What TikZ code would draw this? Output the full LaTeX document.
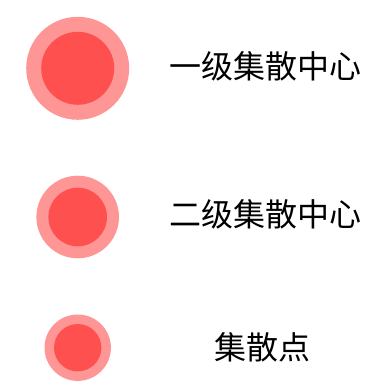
\documentclass[tikz,border=0pt]{standalone}
\usepackage{fontspec}
\newfontfamily\cjk{Noto Sans CJK SC}
\definecolor{outerred}{RGB}{255,150,150}
\definecolor{innerred}{RGB}{255,80,80}
\tikzset{
  outerdot/.style={circle,fill=outerred,draw=none,inner sep=0pt},
  innerdot/.style={circle,fill=innerred,draw=none,inner sep=0pt},
  label/.style={font=\cjk\fontsize{32pt}{36pt}\selectfont,anchor=base,inner sep=0pt}
}
\begin{document}
\begin{tikzpicture}[x=1pt,y=1pt]
\useasboundingbox (0,0) rectangle (383,383);
% level 1
\node[outerdot,minimum size=103pt] (o1) at (77.7,314.7) {};
\node[innerdot,minimum size=73pt] (i1) at (o1.center) {};
\node[label] (t1) at (265.5,304) {一级集散中心};
% level 2
\node[outerdot,minimum size=82.6pt] (o2) at (77.7,166) {};
\node[innerdot,minimum size=58.6pt] (i2) at (o2.center) {};
\node[label] (t2) at (265.5,156) {二级集散中心};
% point
\node[outerdot,minimum size=66.4pt] (o3) at (77.7,35.3) {};
\node[innerdot,minimum size=47.4pt] (i3) at (o3.center) {};
\node[label] (t3) at (262.5,23.5) {集散点};
\end{tikzpicture}
\end{document}
